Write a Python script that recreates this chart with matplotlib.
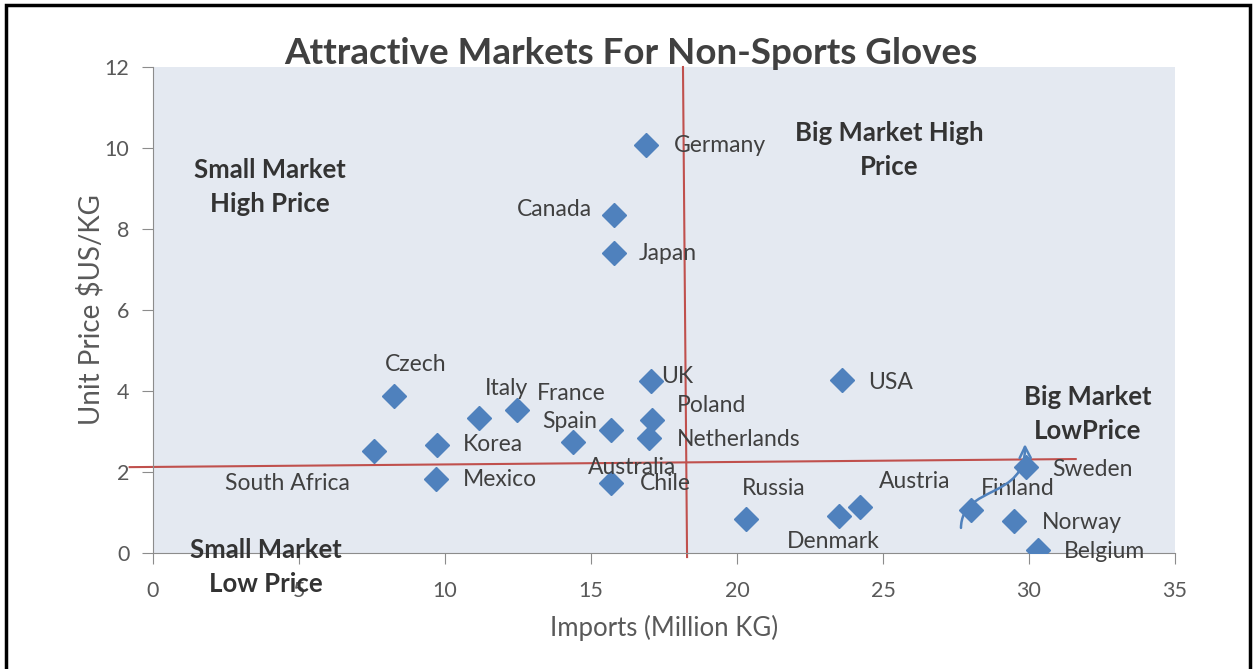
import numpy as np
import matplotlib.pyplot as plt
from matplotlib.path import Path
from matplotlib.patches import FancyArrowPatch, Rectangle

plt.rcParams['font.family'] = ['Lato', 'DejaVu Sans']

# data
countries = ['Germany', 'Canada', 'Japan', 'Czech', 'South Africa', 'Korea',
             'Mexico', 'Italy', 'France', 'Spain', 'Australia', 'Chile',
             'UK', 'Poland', 'Netherlands', 'USA', 'Russia', 'Denmark',
             'Austria', 'Finland', 'Sweden', 'Norway', 'Belgium']
imports = [16.9, 15.8, 15.8, 8.25, 7.57, 9.73,
           9.7, 11.16, 12.47, 14.4, 15.7, 15.7,
           17.05, 17.1, 17.0, 23.6, 20.3, 23.5,
           24.2, 28.0, 29.9, 29.5, 30.3]
unit_price = [10.07, 8.35, 7.4, 3.88, 2.52, 2.67,
              1.83, 3.33, 3.53, 2.74, 3.04, 1.73,
              4.25, 3.28, 2.84, 4.27, 0.84, 0.91,
              1.14, 1.06, 2.12, 0.79, 0.07]

# label offsets in pixels (dx, dy, ha)
offsets = [(27, 0, 'left'), (-22, 5, 'right'), (24, 0, 'left'), (22, 31, 'center'),
           (-87, -33, 'center'), (26, 0, 'left'), (27, -1, 'left'), (28, 30, 'center'),
           (54, 17, 'center'), (-4, 21, 'center'), (21, -38, 'center'), (28, -1, 'left'),
           (10, 4, 'left'), (25, 15, 'left'), (27, -2, 'left'), (26, -2, 'left'),
           (28, 30, 'center'), (-6, -25, 'center'), (55, 25, 'center'), (47, 22, 'center'),
           (26, -2, 'left'), (27, -1, 'left'), (26, -1, 'left')]

fig = plt.figure(figsize=(12.54, 6.69), dpi=100)
fig.patches.append(Rectangle((6/1254, -0.05), 1244/1254, 1.05 - 5/669, transform=fig.transFigure,
                             fill=False, edgecolor='black', linewidth=2.5))
ax = fig.add_axes([153/1254, 1 - 553/669, 1022/1254, 486/669])
ax.set_facecolor('#E4E9F1')

ax.plot(imports, unit_price, 'D', color='#4F81BD', markersize=12.5, zorder=3)

for name, x, y, (dx, dy, ha) in zip(countries, imports, unit_price, offsets):
    ax.annotate(name, (x, y), xytext=(dx, dy), textcoords='offset pixels',
                ha=ha, va='center', fontsize=16.5, color='#404040', zorder=4)

# quadrant dividers
ax.plot([18.15, 18.29], [12, -0.1], color='#C0504D', lw=1.5, clip_on=False, zorder=2)
ax.plot([-0.8, 31.6], [2.12, 2.32], color='#C0504D', lw=1.5, clip_on=False, zorder=2)

# hand drawn arrow near Sweden
verts = [(27.67, 0.62), (27.7, 1.7), (29.9, 1.3), (29.86, 2.69)]
arrow_path = Path(verts, [Path.MOVETO, Path.CURVE4, Path.CURVE4, Path.CURVE4])
ax.add_patch(FancyArrowPatch(path=arrow_path, arrowstyle='->,head_length=8,head_width=4',
                             color='#4F81BD', lw=1.8, zorder=5))

quad_kw = dict(fontsize=18.5, fontweight='bold', color='#333333', ha='center', va='center',
               linespacing=1.5, clip_on=False)
ax.text(4.0, 9.04, 'Small Market\nHigh Price', **quad_kw)
ax.text(25.2, 9.95, 'Big Market High\nPrice', **quad_kw)
ax.text(32.0, 3.43, 'Big Market\nLowPrice', **quad_kw)
ax.text(3.87, -0.35, 'Small Market\nLow Price', **quad_kw)

ax.set_xlim(0, 35)
ax.set_ylim(0, 12)
ax.set_xticks(range(0, 36, 5))
ax.set_yticks(range(0, 13, 2))
for s in ['top', 'right']:
    ax.spines[s].set_visible(False)
for s in ['left', 'bottom']:
    ax.spines[s].set_color('#8C8C8C')
ax.tick_params(axis='both', colors='#8C8C8C', labelcolor='#595959', labelsize=15.5, length=8)
ax.tick_params(axis='x', pad=12)
ax.tick_params(axis='y', pad=9)
ax.set_xlabel('Imports (Million KG)', fontsize=18.5, color='#595959', labelpad=10)
ax.set_ylabel(r'Unit Price \$US/KG', fontsize=20, color='#595959', labelpad=0)

fig.text(631/1254, 1 - 53/669, 'Attractive Markets For Non-Sports Gloves', ha='center', va='center',
         fontsize=26.5, fontweight='bold', color='#404040')

fig.savefig('out.png', dpi=100)
